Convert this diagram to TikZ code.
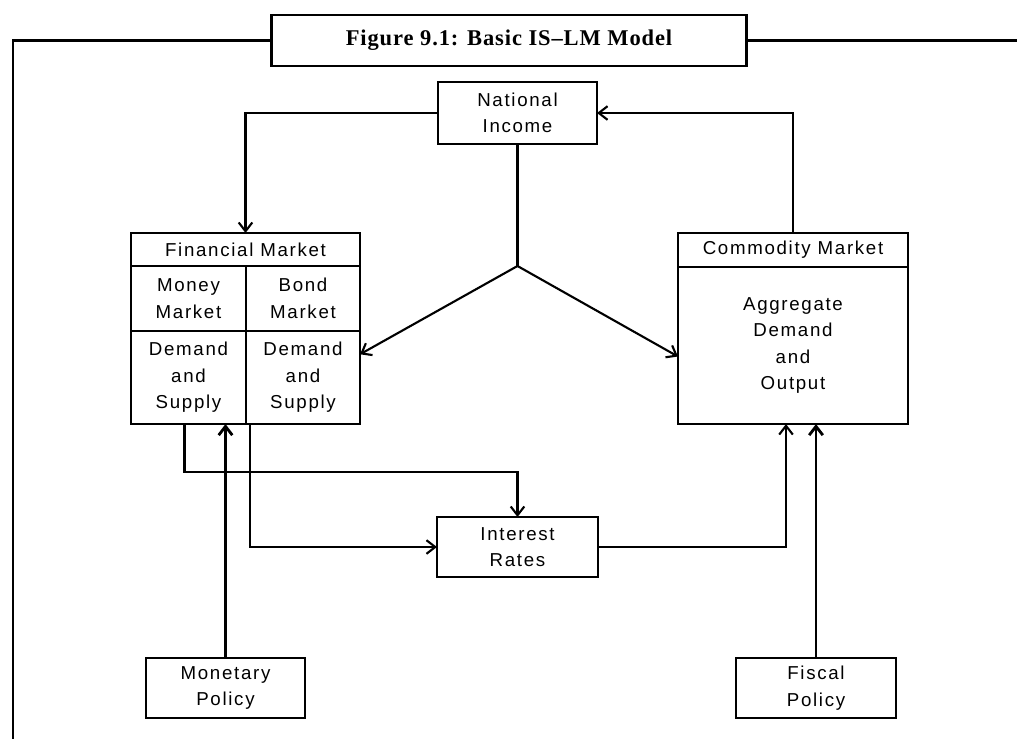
\documentclass[tikz,border=0pt]{standalone}
\usepackage{fontspec}
\setmainfont{Liberation Serif}
\newfontfamily\titlefont[LetterSpace=4]{Liberation Serif}
\newfontfamily\boxfont[LetterSpace=9]{Liberation Sans}
\usetikzlibrary{arrows.meta, calc, positioning}

\tikzset{
    box/.style={draw, line width=1.6pt, inner sep=0pt, outer sep=0pt, align=center,
        font=\boxfont\fontsize{13.3}{18.8}\selectfont},
    titlebox/.style={draw, line width=1.7pt, inner sep=0pt, outer sep=0pt,
        font=\titlefont\bfseries\fontsize{16}{18}\selectfont},
    frame/.style={line width=1.7pt},
    link/.style={line width=1.5pt},
    conn/.style={line width=1.5pt, -{Straight Barb[length=2.2mm,width=3.4mm]}},
    policyconn/.style={line width=2pt, -{Straight Barb[length=2.2mm,width=3.4mm]}}
}

\begin{document}
\begin{tikzpicture}[x=0.025cm, y=-0.025cm]
    \useasboundingbox (0,0) rectangle (1017,738);
    % Title and outer frame
    \node[titlebox, minimum width=11.875cm, minimum height=1.275cm] (title) at (509,40.5) {Figure 9.1: Basic IS–LM Model};
    \coordinate (frametl) at (13,40.5);
    \coordinate (framebl) at (13,745);
    \coordinate (frametr) at (1025,40.5);
    \draw[frame] (title.west) -- (frametl) -- (framebl);
    \draw[frame] (title.east) -- (frametr);
    % National income
    \node[box, minimum width=3.975cm, minimum height=1.55cm] (natinc) at (517.5,113) {National\\Income};
    % Financial market
    \node[box, minimum width=5.725cm, minimum height=0.825cm] (finhead) at (245.5,249.5) {Financial Market};
    \node[box, anchor=north west, minimum width=2.875cm, minimum height=1.625cm] (money) at (finhead.south west) {Money\\Market};
    \node[box, anchor=north west, minimum width=2.85cm, minimum height=1.625cm] (bond) at (money.north east) {Bond\\Market};
    \node[box, anchor=north west, minimum width=2.875cm, minimum height=2.325cm] (mdemand) at (money.south west) {Demand\\and\\Supply};
    \node[box, anchor=north west, minimum width=2.85cm, minimum height=2.325cm] (bdemand) at (mdemand.north east) {Demand\\and\\Supply};
    % Commodity market
    \node[box, minimum width=5.75cm, minimum height=0.85cm] (comhead) at (793,250) {Commodity Market};
    \node[box, anchor=north west, minimum width=5.75cm, minimum height=3.925cm] (combody) at (comhead.south west) {Aggregate\\Demand\\and\\Output};
    % Interest rates and policies
    \node[box, minimum width=4.025cm, minimum height=1.5cm] (interest) at (517.5,547) {Interest\\Rates};
    \node[box, minimum width=3.975cm, minimum height=1.5cm] (monpol) at (225.5,688) {Monetary\\Policy};
    \node[box, minimum width=4cm, minimum height=1.5cm] (fispol) at (816,688) {Fiscal\\Policy};
    % Connections
    \draw[conn] (natinc.west) -| (finhead.north);
    \draw[conn] (comhead.north) |- (natinc.east);
    \coordinate (fork) at (517.5,266);
    \draw[link] (natinc.south) -- (fork);
    \draw[conn] (fork) -- ($(bdemand.north east)!0.25!(bdemand.south east)$);
    \draw[conn] (fork) -- ($(combody.north west)!0.57!(combody.south west)$);
    \draw[conn] ($(mdemand.south)+(-4,0)$) -- ++(0,48) -| (interest.north);
    \draw[conn] ($(bdemand.south west)+(4,0)$) |- (interest.west);
    \draw[conn] (interest.east) -| ($(combody.south)+(-7,0)$);
    \draw[policyconn] (monpol.north) -- (monpol.north |- mdemand.south);
    \draw[policyconn] (fispol.north) -- (fispol.north |- combody.south);
\end{tikzpicture}
\end{document}
